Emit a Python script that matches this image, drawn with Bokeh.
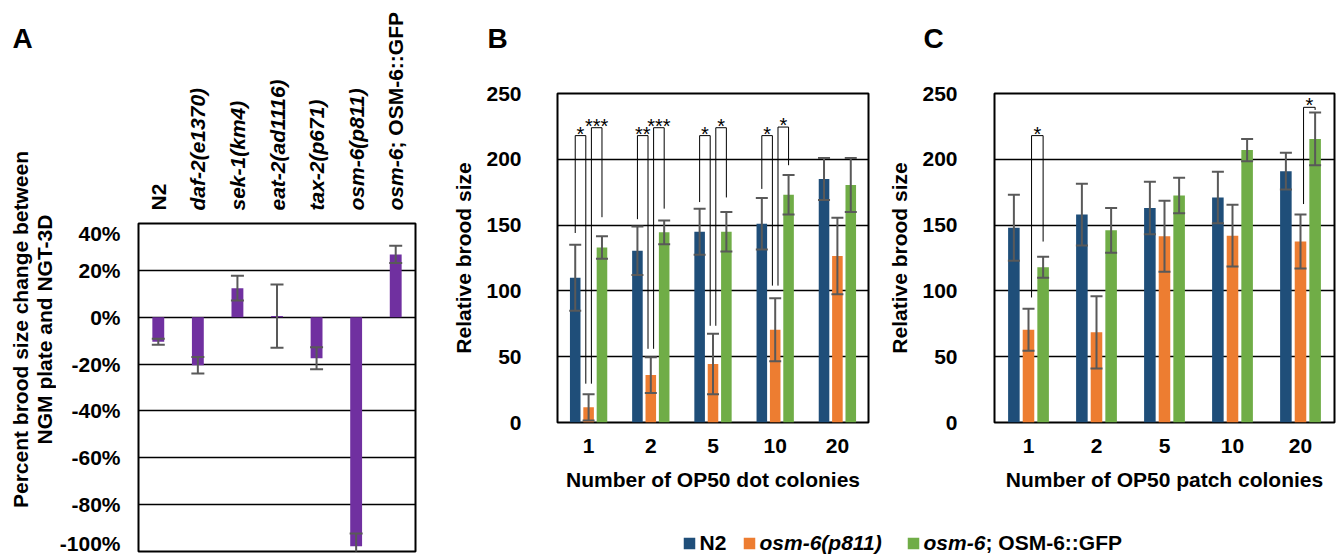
import numpy as np
from bokeh.plotting import figure
from bokeh.layouts import row, column
from bokeh.models import (ColumnDataSource, Whisker, TeeHead, Range1d, FixedTicker,
                          PrintfTickFormatter)
from bokeh.embed import file_html
from bokeh.resources import INLINE
from bokeh.core.properties import value

FONT = "Liberation Sans"

# ---------------- data ----------------
# Panel A
a_categories = ["N2", "daf-2(e1370)", "sek-1(km4)", "eat-2(ad1116)",
                "tax-2(p671)", "osm-6(p811)", "osm-6; OSM-6::GFP"]
a_values = [-10.5, -20.5, 12.4, 0.5, -17.5, -97.8, 26.8]
a_errors = [1.3, 3.5, 5.3, 13.5, 4.7, 5.5, 3.7]
a_ticks = [-100, -80, -60, -40, -20, 0, 20, 40]
a_ylabel = ["Percent brood size change between", "NGM plate and NGT-3D"]

# Panels B and C
colonies = ["1", "2", "5", "10", "20"]
bc_ticks = [0, 50, 100, 150, 200, 250]
series_names = ["N2", "osm-6(p811)", "osm-6; OSM-6::GFP"]

b_n2 = [110, 130.5, 145, 151, 185]
b_n2_err = [25, 18.5, 17.5, 19.5, 16]
b_osm = [11.5, 36, 44.5, 70.5, 126.5]
b_osm_err = [10, 13.5, 23, 24, 29]
b_gfp = [133, 144.5, 145, 173, 180.5]
b_gfp_err = [8.5, 9, 15, 15, 20.5]

c_n2 = [148, 158, 163, 171, 191]
c_n2_err = [25, 23.5, 20, 19.5, 14]
c_osm = [70.5, 68.5, 141.5, 142, 137.5]
c_osm_err = [16, 27.5, 27, 23.5, 20.5]
c_gfp = [118, 146, 172.5, 207, 215.5]
c_gfp_err = [8, 17, 13.5, 8.5, 20]

# significance brackets: group index, pair (0: N2 vs osm-6, 1: osm-6 vs GFP),
# bracket top, left leg bottom, right leg bottom, stars
b_br_group = [0, 0, 1, 1, 2, 2, 3, 3]
b_br_pair = [0, 1, 0, 1, 0, 1, 0, 1]
b_br_top = [218, 224, 218, 224, 218, 224, 218, 224.5]
b_br_lbot = [144, 29.5, 154.5, 56, 167.5, 73.5, 177.5, 104]
b_br_rbot = [29.5, 156, 56, 162.5, 73.5, 171, 104, 195.5]
b_br_text = ["*", "***", "**", "***", "*", "*", "*", "*"]

c_br_group = [0, 4]
c_br_pair = [1, 1]
c_br_top = [218, 239.5]
c_br_lbot = [95, 166]
c_br_rbot = [137.5, 237.5]
c_br_text = ["*", "*"]

panel_letters = ["A", "B", "C"]

# ---------------- style ----------------
PURPLE = "#7030A0"
BLUE = "#1F4E79"
ORANGE = "#ED7D31"
GREEN = "#70AD47"
ERR = "#595959"
OFF = 0.215
BW = 0.17
PAIR_LEGS = {0: (-0.215, -0.045), 1: (0.045, 0.215)}


def blank(width, height):
    """A figure whose frame covers the whole canvas, in pixel units."""
    f = figure(width=width, height=height, x_range=Range1d(0, width),
               y_range=Range1d(0, height), output_backend="svg",
               toolbar_location=None, min_border=0)
    f.axis.visible = False
    f.grid.visible = False
    f.outline_line_color = None
    f.background_fill_color = "white"
    f.border_fill_color = "white"
    return f


def style_axes(p):
    for ax in (p.xaxis, p.yaxis):
        ax.axis_line_color = None
        ax.major_tick_line_color = None
        ax.minor_tick_line_color = None
        ax.major_tick_in = 0
        ax.major_tick_out = 0
        ax.major_label_text_font = FONT
        ax.major_label_text_font_size = "21px"
        ax.major_label_text_font_style = "bold"
        ax.major_label_text_color = "black"
        ax.axis_label_text_font = FONT
        ax.axis_label_text_font_size = "21px"
        ax.axis_label_text_font_style = "bold"
        ax.axis_label_text_color = "black"
    p.outline_line_color = "black"
    p.outline_line_width = 2
    p.xgrid.visible = False
    p.ygrid.grid_line_color = "black"
    p.ygrid.grid_line_width = 1.5
    p.background_fill_color = "white"
    p.border_fill_color = "white"


def add_whisker(p, src, size):
    w = Whisker(source=src, base="x", upper="upper", lower="lower",
                line_color=ERR, line_width=2,
                upper_head=TeeHead(size=size, line_color=ERR, line_width=2),
                lower_head=TeeHead(size=size, line_color=ERR, line_width=2),
                level="annotation")
    p.add_layout(w)


def split_styles(name):
    if name == "N2":
        return [(name, "bold")]
    if ";" in name:
        head, tail = name.split(";", 1)
        return [(head, "bold italic"), (";" + tail, "bold")]
    return [(name, "bold italic")]


def big_text(f, x, y, txt):
    f.text(x=[x], y=[y], text=[txt], text_font=value(FONT), text_font_size="28px",
           text_font_style="bold", text_color="black", text_align="left",
           text_baseline="middle")


# ---------------- Panel A ----------------
a_x_range = Range1d(-0.5, len(a_categories) - 0.5)

# left strip: panel letter and two-line y title
a_left = blank(56, 554)
big_text(a_left, 12, 516, panel_letters[0])
for j, line in enumerate(a_ylabel):
    a_left.text(x=[20 + 24 * j], y=[225], text=[line], angle=np.pi / 2,
                text_font=value(FONT), text_font_size="21px", text_font_style="bold",
                text_color="black", text_align="center", text_baseline="middle")

# top strip: rotated category labels
a_top = figure(width=384, height=221, x_range=a_x_range, y_range=Range1d(0, 221),
               output_backend="svg", toolbar_location=None, min_border_left=80,
               min_border_right=25, min_border_top=0, min_border_bottom=0)
a_top.axis.visible = False
a_top.grid.visible = False
a_top.outline_line_color = None
for i, cat in enumerate(a_categories):
    yy = 11
    for txt, st in split_styles(cat):
        a_top.text(x=[i], y=[yy], text=[txt], angle=np.pi / 2, text_font=value(FONT),
                   text_font_size="21px", text_font_style=st, text_color="black",
                   text_align="left", text_baseline="middle")
        yy += 62

# plot
pa = figure(width=384, height=333, x_range=a_x_range, y_range=Range1d(-100, 40),
            output_backend="svg", toolbar_location=None, min_border_left=80,
            min_border_right=25, min_border_top=2, min_border_bottom=3)
style_axes(pa)
pa.xaxis.visible = False
pa.yaxis.ticker = FixedTicker(ticks=a_ticks)
pa.yaxis.formatter = PrintfTickFormatter(format="%d%%")
pa.yaxis.major_label_standoff = 18

ax_idx = np.arange(len(a_categories))
va = np.array(a_values)
ea = np.array(a_errors)
src_a = ColumnDataSource(dict(x=ax_idx, top=va, upper=va + ea, lower=va - ea))
pa.vbar(x="x", top="top", bottom=0, width=0.3, source=src_a,
        fill_color=PURPLE, line_color=None)
add_whisker(pa, src_a, 13)


# ---------------- Panels B and C ----------------
def bar_panel(width, bl, br, xlabel, n2, n2e, osm, osme, gfp, gfpe,
              brg, brp, brt, brl, brr, brtxt, ystand):
    p = figure(width=width, height=460, x_range=Range1d(-0.5, len(colonies) - 0.5),
               y_range=Range1d(0, 250), output_backend="svg",
               toolbar_location=None, min_border_left=bl, min_border_right=br,
               min_border_top=33, min_border_bottom=98)
    style_axes(p)
    idx = np.arange(len(colonies))
    p.xaxis.ticker = FixedTicker(ticks=list(idx))
    p.xaxis.major_label_overrides = {int(i): c for i, c in zip(idx, colonies)}
    p.xaxis.major_label_standoff = 16
    p.xaxis.axis_label = xlabel
    p.xaxis.axis_label_standoff = 12
    p.yaxis.ticker = FixedTicker(ticks=bc_ticks)
    p.yaxis.major_label_standoff = ystand
    p.yaxis.axis_label = "Relative brood size"
    p.yaxis.axis_label_standoff = 8

    for vals, errs, off, col in [(n2, n2e, -OFF, BLUE), (osm, osme, 0.0, ORANGE),
                                 (gfp, gfpe, OFF, GREEN)]:
        v = np.array(vals, dtype=float)
        e = np.array(errs, dtype=float)
        src = ColumnDataSource(dict(x=idx + off, top=v, upper=v + e, lower=v - e))
        p.vbar(x="x", top="top", bottom=0, width=BW, source=src,
               fill_color=col, line_color=None)
        add_whisker(p, src, 12)

    xs, ys, tx, ty = [], [], [], []
    for g, pr, t, lb, rb in zip(brg, brp, brt, brl, brr):
        lo, ro = PAIR_LEGS[pr]
        xs.append([g + lo, g + lo, g + ro, g + ro])
        ys.append([lb, t, t, rb])
        tx.append(g + (lo + ro) / 2)
        ty.append(t)
    p.multi_line(xs=xs, ys=ys, line_color="black", line_width=1)
    p.text(x=tx, y=ty, text=brtxt, text_font=value(FONT), text_font_size="20px",
           text_align="center", text_baseline="middle", text_color="black",
           y_offset=-2)
    return p


pb = bar_panel(440, 117, 12, "Number of OP50 dot colonies",
               b_n2, b_n2_err, b_osm, b_osm_err, b_gfp, b_gfp_err,
               b_br_group, b_br_pair, b_br_top, b_br_lbot, b_br_rbot, b_br_text, 36)
pc = bar_panel(460, 114, 6, "Number of OP50 patch colonies",
               c_n2, c_n2_err, c_osm, c_osm_err, c_gfp, c_gfp_err,
               c_br_group, c_br_pair, c_br_top, c_br_lbot, c_br_rbot, c_br_text, 37)

# top strip with the B / C panel letters
bc_top = blank(900, 60)
big_text(bc_top, 47, 22, panel_letters[1])
big_text(bc_top, 483, 22, panel_letters[2])

# ---------------- legend strip ----------------
leg = blank(900, 34)
leg_colors = [BLUE, ORANGE, GREEN]
leg_sq_x = [249, 309, 473]
leg.scatter(x=leg_sq_x, y=[11] * 3, marker="square", size=11.5,
            fill_color=leg_colors, line_color=None)
for name, sx in zip(series_names, leg_sq_x):
    xx = sx + 10
    for txt, st in split_styles(name):
        leg.text(x=[xx], y=[12], text=[txt], text_font=value(FONT),
                 text_font_size="21px", text_font_style=st, text_color="black",
                 text_align="left", text_baseline="middle")
        xx += 62

layout = row(row(a_left, column(a_top, pa)),
             column(bc_top, row(pb, pc), leg))
open("out.html", "w").write(file_html(layout, INLINE))
